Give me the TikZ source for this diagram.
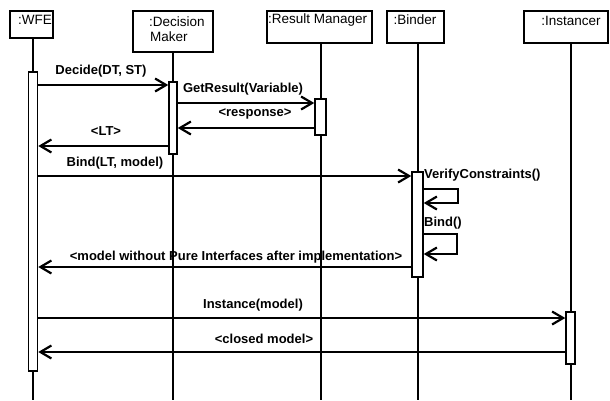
\documentclass[tikz,border=0pt]{standalone}
\usepackage{fontspec}
\setmainfont{Liberation Sans}
\usetikzlibrary{arrows.meta}
\begin{document}
\begin{tikzpicture}[x=1pt,y=-1pt,
  obj/.style={draw,line width=1.8pt,fill=white,inner sep=0pt},
  objtxt/.style={inner sep=0pt,font=\fontsize{13.5}{15}\selectfont},
  life/.style={line width=2pt},
  act/.style={draw,line width=1.5pt,fill=white,inner sep=0pt,minimum width=9pt},
  msg/.style={line width=2pt,-{Straight Barb[length=11pt,width=13pt,line width=2.2pt]}},
  lbl/.style={inner sep=0pt,font=\bfseries\fontsize{13}{15}\selectfont}]
\useasboundingbox (0,0) rectangle (610,400);
% heads
\node[obj,minimum width=43pt,minimum height=27pt] (wfe) at (31.5,24.5) {};
\node[obj,minimum width=80pt,minimum height=41pt] (dm) at (173,31.5) {};
\node[obj,minimum width=105pt,minimum height=32pt] (rm) at (319.5,27) {};
\node[obj,minimum width=57pt,minimum height=32pt] (bin) at (415.5,27) {};
\node[obj,minimum width=84pt,minimum height=32pt] (ins) at (566,27) {};
\node[objtxt] (twfe) at (35,20) {:WFE};
\node[objtxt,anchor=west] (tdm1) at (149,22) {:Decision};
\node[objtxt,anchor=west] (tdm2) at (150,37) {Maker};
\node[objtxt,anchor=west] (trm) at (268,20) {:Result Manager};
\node[objtxt] (tbin) at (415,20) {:Binder};
\node[objtxt] (tins) at (571,21) {:Instancer};
% activation bars (coordinates)
\coordinate (cwfe) at (33,221.5);
\coordinate (cdm) at (173,118);
\coordinate (crm) at (320.5,117);
\coordinate (cbin) at (417.5,224.5);
\coordinate (cins) at (570.5,338);
% lifelines
\draw[life] (cwfe |- wfe.south) -- (cwfe |- 0,400);
\draw[life] (cdm |- dm.south) -- (cdm |- 0,400);
\draw[life] (crm |- rm.south) -- (crm |- 0,400);
\draw[life] (cbin |- bin.south) -- (cbin |- 0,400);
\draw[life] (cins |- ins.south) -- (cins |- 0,400);
% bars
\node[act,minimum height=299pt] (wfeA) at (cwfe) {};
\node[act,minimum height=72pt,minimum width=8pt] (dmA) at (cdm) {};
\node[act,minimum height=36pt,minimum width=11pt] (rmA) at (crm) {};
\node[act,minimum height=105pt,minimum width=11pt] (binA) at (cbin) {};
\node[act,minimum height=52pt] (insA) at (cins) {};
% messages
\draw[msg] (wfeA.east |- 0,85) -- (dmA.west |- 0,85);
\node[lbl] (l1) at (101,71) {Decide(DT, ST)};
\draw[msg] (dmA.east |- 0,103) -- (rmA.west |- 0,103);
\node[lbl] (l2) at (243,89) {GetResult(Variable)};
\draw[msg] (rmA.west |- 0,128) -- (dmA.east |- 0,128);
\node[lbl] (l3) at (255,114) {<response>};
\draw[msg] (dmA.west |- 0,146) -- (wfeA.east |- 0,146);
\node[lbl] (l4) at (106,131) {<LT>};
\draw[msg] (wfeA.east |- 0,176) -- (binA.west |- 0,176);
\node[lbl] (l5) at (115,163) {Bind(LT, model)};
\node[lbl,anchor=west] (l6) at (424,175) {VerifyConstraints()};
\draw[msg] (binA.east |- 0,189) -- (458,189) -- (458,203) -- (binA.east |- 0,203);
\node[lbl,anchor=west] (l7) at (424,223) {Bind()};
\draw[msg] (binA.east |- 0,234) -- (457,234) -- (457,254) -- (binA.east |- 0,254);
\draw[msg] (binA.west |- 0,267) -- (wfeA.east |- 0,267);
\node[lbl] (l8) at (236,257) {<model without Pure Interfaces after implementation>};
\draw[msg] (wfeA.east |- 0,318) -- (insA.west |- 0,318);
\node[lbl] (l9) at (253,305) {Instance(model)};
\draw[msg] (insA.west |- 0,352) -- (wfeA.east |- 0,352);
\node[lbl] (l10) at (264,339) {<closed model>};
\end{tikzpicture}
\end{document}
